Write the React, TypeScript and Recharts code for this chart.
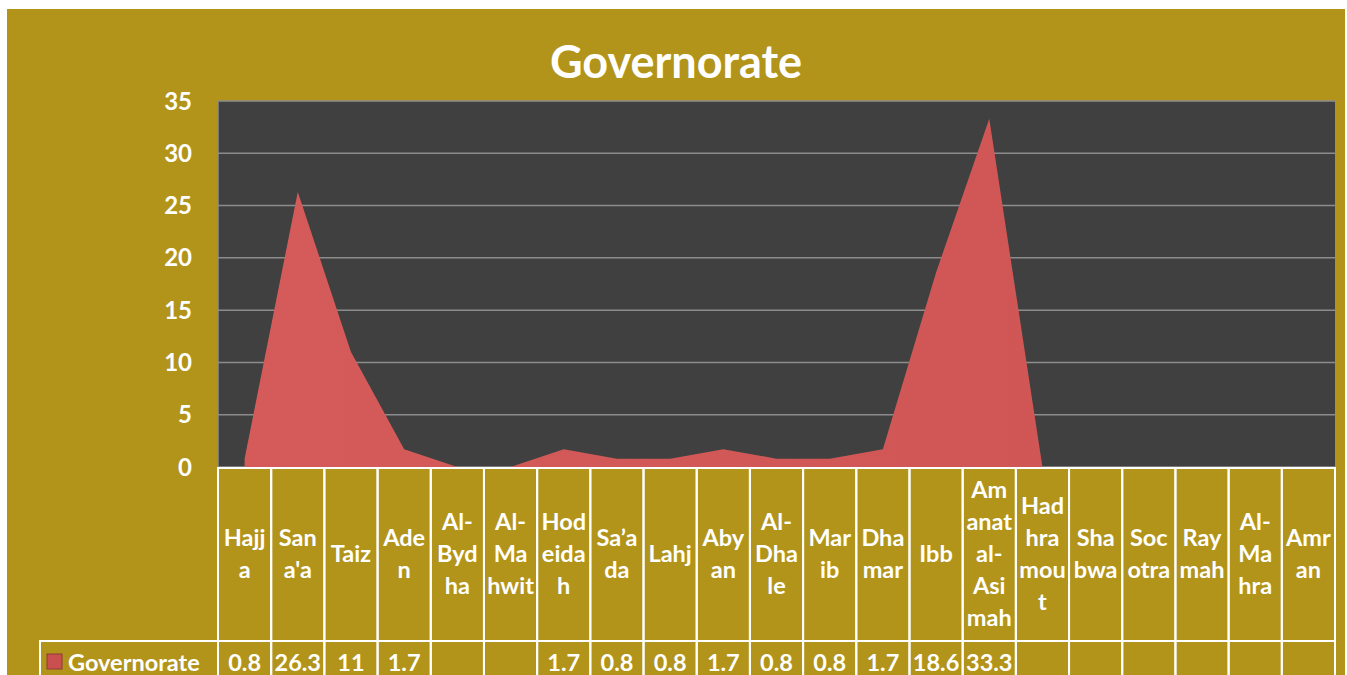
import React from 'react';
import { AreaChart, Area, XAxis, YAxis, CartesianGrid } from 'recharts';

const governorates = [
  'Hajja', "Sana'a", 'Taiz', 'Aden', 'Al-Bydha', 'Al-Mahwit', 'Hodeidah', 'Sa’ada', 'Lahj', 'Abyan',
  'Al-Dhale', 'Marib', 'Dhamar', 'Ibb', 'Amanat al-Asimah', 'Hadhramout', 'Shabwa', 'Socotra',
  'Raymah', 'Al-Mahra', 'Amran',
];

// header text as it wraps in the table cells
const labelLines = [
  ['Hajj', 'a'], ['San', "a'a"], ['Taiz'], ['Ade', 'n'], ['Al-', 'Byd', 'ha'], ['Al-', 'Ma', 'hwit'],
  ['Hod', 'eida', 'h'], ['Sa’a', 'da'], ['Lahj'], ['Aby', 'an'], ['Al-', 'Dha', 'le'], ['Mar', 'ib'],
  ['Dha', 'mar'], ['Ibb'], ['Am', 'anat', 'al-', 'Asi', 'mah'], ['Had', 'hra', 'mou', 't'],
  ['Sha', 'bwa'], ['Soc', 'otra'], ['Ray', 'mah'], ['Al-', 'Ma', 'hra'], ['Amr', 'an'],
];

const values: (number | null)[] = [
  0.8, 26.3, 11, 1.7, null, null, 1.7, 0.8, 0.8, 1.7, 0.8, 0.8, 1.7, 18.6, 33.3,
  null, null, null, null, null, null,
];

const yTicks = [0, 5, 10, 15, 20, 25, 30, 35];
const seriesName = 'Governorate';

const data = governorates.map((name, i) => ({ name, value: values[i], area: values[i] ?? 0 }));

const W = 1338;
const H = 666;
const LEFT = 211;
const RIGHT = 10;
const TOP = 92;
const X_AXIS_H = 208;
const PLOT_BOTTOM = H - X_AXIS_H;
const BAND = (W - LEFT - RIGHT) / governorates.length;
const HEADER_H = 173;
const LINE_H = 32;
const FONT = 'Lato, "Open Sans", sans-serif';
const BG = '#B2941A';
const TXT = 23.5;

const TableTick = (props: any) => {
  const { x, payload } = props;
  const i = governorates.indexOf(payload.value);
  const lines = labelLines[i] || [];
  const left = x - BAND / 2;
  const top = PLOT_BOTTOM + 1;
  const headerMid = top + HEADER_H / 2 - 2;
  const valueMid = top + HEADER_H + (H - top - HEADER_H) / 2 + 4;
  const v = values[i];
  return (
    <g>
      <rect x={left} y={top} width={BAND} height={HEADER_H} fill="none" stroke="#fff" strokeWidth={2} />
      <rect x={left} y={top + HEADER_H} width={BAND} height={H - top - HEADER_H + 4} fill="none" stroke="#fff" strokeWidth={2} />
      <text textAnchor="middle" fill="#fff" fontSize={TXT} fontWeight={700} fontFamily={FONT}>
        {lines.map((l, k) => (
          <tspan key={k} x={x} y={headerMid + (k - (lines.length - 1) / 2) * LINE_H} dominantBaseline="central">
            {l}
          </tspan>
        ))}
      </text>
      {v !== null && (
        <text x={x} y={valueMid} textAnchor="middle" dominantBaseline="central" fill="#fff" fontSize={TXT} fontWeight={700} fontFamily={FONT}>
          {v}
        </text>
      )}
      {i === 0 && (
        <g>
          <rect x={33} y={top + HEADER_H} width={LEFT - 33} height={H - top - HEADER_H + 4} fill="none" stroke="#fff" strokeWidth={2} />
          <rect x={40} y={valueMid - 8} width={15} height={15} fill="#c9504e" stroke="#8e3a38" strokeWidth={1} />
          <text x={61} y={valueMid} dominantBaseline="central" fill="#fff" fontSize={TXT} fontWeight={700} fontFamily={FONT}>
            {seriesName}
          </text>
        </g>
      )}
    </g>
  );
};

export default function App() {
  return (
    <div style={{ position: 'absolute', left: 7, top: 9, width: W, height: H, background: BG }}>
      <div
        style={{
          position: 'absolute', left: 0, top: 25, width: W, textAlign: 'center',
          color: '#fff', fontFamily: FONT, fontWeight: 700, fontSize: 45, lineHeight: '54px',
        }}
      >
        Governorate
      </div>
      <AreaChart width={W} height={H} data={data} margin={{ top: TOP, right: RIGHT, left: 0, bottom: 0 }}>
        <defs>
          <linearGradient id="areaFill" x1="0" y1="0" x2="1" y2="0">
            <stop offset="0%" stopColor="#d55b5a" />
            <stop offset="100%" stopColor="#ce5553" />
          </linearGradient>
        </defs>
        <CartesianGrid vertical={false} stroke="#8c8c8c" strokeWidth={1.5} fill="#404040" />
        <XAxis
          dataKey="name"
          scale="band"
          interval={0}
          height={X_AXIS_H}
          axisLine={false}
          tickLine={false}
          tickSize={0}
          tickMargin={0}
          tick={<TableTick />}
        />
        <YAxis
          domain={[0, 35]}
          ticks={yTicks}
          width={LEFT}
          axisLine={{ stroke: '#8c8c8c', strokeWidth: 1.5 }}
          tickLine={false}
          tickSize={0}
          tickMargin={26}
          tick={{ fill: '#fff', fontSize: 24, fontWeight: 700, fontFamily: FONT }}
        />
        <Area
          type="linear"
          dataKey="area"
          name={seriesName}
          stroke="none"
          fill="url(#areaFill)"
          fillOpacity={1}
          isAnimationActive={false}
        />
      </AreaChart>
    </div>
  );
}
